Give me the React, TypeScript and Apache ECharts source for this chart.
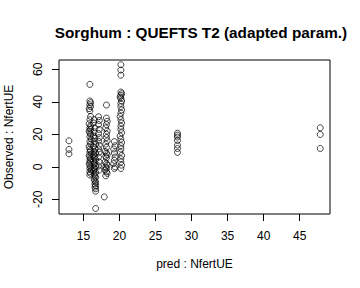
import React, { useEffect, useRef } from "react";
import * as echarts from "echarts";

const titleText = "Sorghum : QUEFTS T2 (adapted param.)";
const xName = "pred : NfertUE";
const yName = "Observed : NfertUE";
const xTicks = [15, 20, 25, 30, 35, 40, 45];
const yTicks = [-20, 0, 20, 40, 60];

const group13 = [[13.0, 16.0], [13.0, 10.7], [13.0, 8.0]];
const group16 = [
  [15.9, 50.7], [15.9, 40.5], [16.0, 39.5], [15.9, 38.2], [16.0, 37.0], [15.8, 35.8], [15.9, 34.5],
  [16.0, 31.0], [15.9, 29.0], [15.8, 26.5], [16.0, 25.2], [15.9, 24.0], [16.0, 23.0], [15.8, 22.0],
  [15.9, 21.0], [16.0, 20.0], [15.9, 18.5], [16.1, 17.0], [15.9, 15.5], [16.0, 14.0], [15.8, 12.5],
  [15.9, 11.0], [16.0, 10.0], [15.9, 9.0], [16.1, 8.0], [15.8, 7.0], [15.9, 6.0], [16.0, 5.0],
  [15.9, 4.0], [16.0, 3.0], [15.8, 2.0], [15.9, 1.0], [16.0, 0.0], [15.9, -1.0], [16.1, -2.0],
  [15.9, -3.0], [16.0, -4.0], [15.9, -5.0],
];
const group16b = [
  [16.5, 29.0], [16.4, 27.0], [16.6, 24.0], [16.5, 21.5], [16.4, 19.0], [16.6, 17.5], [16.5, 15.5],
  [16.7, 14.0], [16.4, 12.5], [16.6, 11.0], [16.5, 9.5], [16.7, 8.5], [16.4, 7.5], [16.6, 6.5],
  [16.5, 5.5], [16.7, 4.5], [16.4, 3.5], [16.6, 2.5], [16.5, 1.5], [16.7, 0.5], [16.5, -0.5],
  [16.6, -1.5], [16.4, -2.5], [16.7, -3.5], [16.5, -4.5], [16.6, -5.5], [16.7, -6.5], [16.5, -7.5],
  [16.6, -8.5], [16.7, -9.5], [16.6, -10.5], [16.7, -11.5], [16.6, -12.5], [16.7, -13.5],
  [16.7, -15.0], [16.7, -25.6],
];
const group17 = [
  [17.1, 30.8], [17.2, 28.5], [17.1, 26.0], [17.2, 23.0], [17.1, 20.5], [17.2, 18.0], [17.1, 15.8],
  [17.2, 13.3], [17.1, 11.0], [17.2, 9.0], [17.1, 6.0], [17.2, 3.0], [17.1, 0.5], [17.2, -2.0],
];
const group18 = [
  [18.2, 38.0], [18.2, 30.0], [18.3, 28.0], [18.2, 26.0], [18.1, 24.0], [18.3, 22.0], [18.2, 20.0],
  [18.2, 18.0], [18.3, 16.0], [18.1, 14.0], [18.2, 12.0], [18.0, 9.5], [18.2, 8.5], [18.3, 7.5],
  [18.1, 6.5], [18.2, 5.5], [18.0, 3.0], [18.2, 2.0], [18.3, 1.0], [18.1, 0.0], [18.2, -1.0],
  [18.0, -2.0], [18.2, -3.0], [18.3, -4.0], [18.1, -5.5], [17.9, -18.5],
];
const group19 = [
  [19.3, 15.5], [19.4, 13.0], [19.2, 11.0], [19.3, 8.5], [19.4, 6.0], [19.3, 4.0], [19.2, 2.0],
  [19.4, 0.0], [19.3, -1.0],
];
const group20 = [
  [20.2, 62.8], [20.2, 59.5], [20.2, 56.4], [20.2, 46.0], [20.3, 45.0], [20.2, 44.0], [20.1, 43.0],
  [20.2, 42.0], [20.3, 40.5], [20.2, 39.0], [20.2, 37.0], [20.3, 35.0], [20.2, 33.0], [20.1, 31.0],
  [20.2, 29.0], [20.3, 27.0], [20.2, 25.0], [20.2, 23.0], [20.3, 21.0], [20.1, 19.0], [20.2, 17.0],
  [20.3, 15.0], [20.2, 13.0], [20.2, 11.0], [20.1, 9.0], [20.3, 7.0], [20.2, 5.0], [20.2, 3.0],
  [20.3, 1.0], [20.2, -1.0],
];
const group28 = [
  [28.05, 20.7], [28.05, 19.5], [28.05, 18.3], [28.05, 16.2], [28.05, 13.4], [28.05, 11.3], [28.05, 8.9],
];
const group48 = [[47.85, 24.0], [47.85, 19.9], [47.85, 11.3]];

const allPoints = [
  ...group13, ...group16, ...group16b, ...group17, ...group18, ...group19, ...group20, ...group28, ...group48,
];

const FONT = "Liberation Sans, Arial, Helvetica, sans-serif";

export default function App() {
  const ref = useRef<HTMLDivElement>(null);
  useEffect(() => {
    if (!ref.current) return;
    const chart = echarts.init(ref.current, null, { renderer: "svg" });
    chart.setOption({
      animation: false,
      backgroundColor: "#fff",
      title: {
        text: titleText,
        left: 196,
        textAlign: "center",
        top: 20,
        textStyle: { fontFamily: FONT, fontWeight: "bold", fontSize: 15.3, color: "#000" },
      },
      grid: {
        left: 59, top: 60, right: 30, bottom: 74,
        containLabel: false,
        outerBoundsMode: "none",
        show: true, borderColor: "#000", borderWidth: 1, backgroundColor: "transparent",
      },
      xAxis: {
        type: "value",
        min: 11.62,
        max: 49.2,
        name: xName,
        nameLocation: "middle",
        nameGap: 44,
        nameTextStyle: { fontFamily: FONT, fontSize: 12, color: "#000" },
        axisLine: { show: false, onZero: false },
        splitLine: { show: false },
        axisTick: { show: true, inside: false, length: 7, customValues: xTicks, lineStyle: { color: "#000" } },
        axisLabel: { customValues: xTicks, margin: 16, fontFamily: FONT, fontSize: 12, color: "#000" },
      },
      yAxis: {
        type: "value",
        min: -29.0,
        max: 65.7,
        name: yName,
        nameLocation: "middle",
        nameGap: 44,
        nameTextStyle: { fontFamily: FONT, fontSize: 12, color: "#000" },
        axisLine: { show: false, onZero: false },
        splitLine: { show: false },
        axisTick: { show: true, inside: false, length: 7, customValues: yTicks, lineStyle: { color: "#000" } },
        axisLabel: { customValues: yTicks, rotate: 90, margin: 15, fontFamily: FONT, fontSize: 12, color: "#000" },
      },
      series: [
        {
          type: "scatter",
          data: allPoints,
          symbol: "circle",
          symbolSize: 6,
          itemStyle: { color: "rgba(0,0,0,0)", borderColor: "#000", borderWidth: 0.9 },
          silent: true,
        },
      ],
    });
    return () => chart.dispose();
  }, []);
  return <div ref={ref} style={{ width: 360, height: 288, position: "absolute", left: 0, top: 0 }} />;
}
